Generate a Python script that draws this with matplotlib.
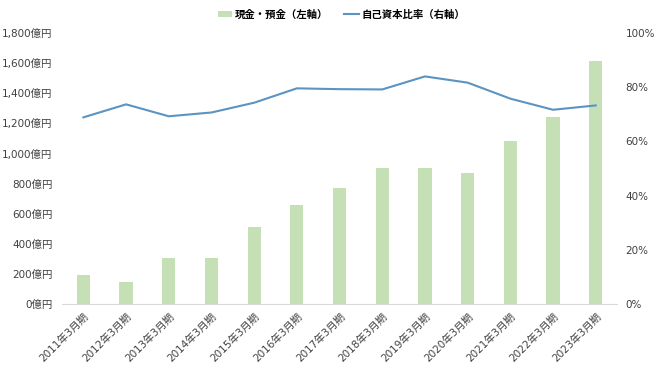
import numpy as np
import matplotlib.pyplot as plt
from matplotlib.ticker import FuncFormatter

# 数字は DejaVu Sans、漢字は Noto Sans CJK JP
plt.rcParams['font.family'] = ['DejaVu Sans', 'Noto Sans CJK JP']

# データ
periods = ['2011年3月期', '2012年3月期', '2013年3月期', '2014年3月期', '2015年3月期',
           '2016年3月期', '2017年3月期', '2018年3月期', '2019年3月期', '2020年3月期',
           '2021年3月期', '2022年3月期', '2023年3月期']
cash = [197, 145, 308, 310, 513, 659, 770, 905, 905, 870, 1084, 1245, 1615]
equity_ratio = [68.9, 73.7, 69.3, 70.7, 74.3, 79.6, 79.3, 79.2, 84.0, 81.7, 75.8, 71.7, 73.3]

bar_color = '#C5E0B4'
line_color = '#5B93C2'
text_color = '#404040'

fig, ax = plt.subplots(figsize=(6.6, 3.71), dpi=100)
fig.subplots_adjust(left=0.094, right=0.935, top=0.911, bottom=0.18)

x = np.arange(len(periods))
ax.bar(x, cash, width=0.31, color=bar_color, label='現金・預金（左軸）', zorder=2)
ax.set_ylim(0, 1800)
ax.set_yticks(np.arange(0, 1801, 200))
ax.yaxis.set_major_formatter(FuncFormatter(lambda v, p: f'{int(v):,}億円'))
ax.set_xlim(-0.5, len(periods) - 0.5)
ax.set_xticks(x)
ax.set_xticklabels(periods, rotation=45, ha='right', rotation_mode='anchor')

ax2 = ax.twinx()
ax2.plot(x, equity_ratio, color=line_color, linewidth=1.5, label='自己資本比率（右軸）', zorder=3)
ax2.set_ylim(0, 100)
ax2.set_yticks(np.arange(0, 101, 20))
ax2.yaxis.set_major_formatter(FuncFormatter(lambda v, p: f'{int(v)}%'))

for a in (ax, ax2):
    for s in a.spines.values():
        s.set_visible(False)
    a.tick_params(length=0, labelsize=7.5, colors=text_color)
ax.spines['bottom'].set_visible(True)
ax.spines['bottom'].set_color('#D9D9D9')
ax.tick_params(axis='y', pad=7)
ax.tick_params(axis='x', pad=5)
ax2.tick_params(axis='y', pad=6)

h1, l1 = ax.get_legend_handles_labels()
h2, l2 = ax2.get_legend_handles_labels()
fig.legend(h1 + h2, l1 + l2, loc='upper center', bbox_to_anchor=(0.517, 1.0), ncol=2,
           frameon=False, prop={'size': 7.5, 'weight': 'bold'}, handlelength=1.4,
           handleheight=0.6, columnspacing=1.6, handletextpad=0.2)

fig.savefig('out.png', dpi=100)
